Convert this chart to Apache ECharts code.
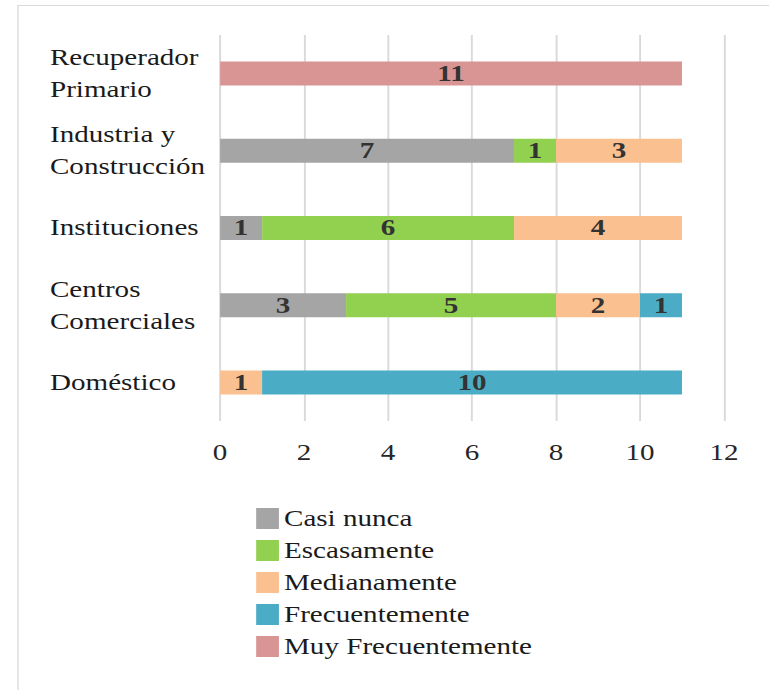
<!DOCTYPE html>
<html>
<head>
<meta charset="utf-8">
<script src="https://cdn.jsdelivr.net/npm/echarts@6/dist/echarts.min.js"></script>
<style>
  html, body { margin: 0; padding: 0; background: #fff; overflow: hidden; }
  /* la figura original está estirada en horizontal */
  #chart { width: 608px; height: 690px; transform: scaleX(1.265); transform-origin: 0 0; }
</style>
</head>
<body>
<div id="chart"></div>
<script>
// categorias (de abajo hacia arriba)
var categories = ['Doméstico', 'Centros\nComerciales', 'Instituciones', 'Industria y\nConstrucción', 'Recuperador\nPrimario'];
var seriesNames = ['Casi nunca', 'Escasamente', 'Medianamente', 'Frecuentemente', 'Muy Frecuentemente'];
var casiNunca = [0, 3, 1, 7, 0];
var escasamente = [0, 5, 6, 1, 0];
var medianamente = [1, 2, 4, 3, 0];
var frecuentemente = [10, 1, 0, 0, 0];
var muyFrecuentemente = [0, 0, 0, 0, 11];
var xTicks = [0, 2, 4, 6, 8, 10, 12];
var colors = ['#A5A5A5', '#92D050', '#FAC090', '#4BACC6', '#D99594'];

var values = [casiNunca, escasamente, medianamente, frecuentemente, muyFrecuentemente];
var font = "'Liberation Serif', 'Times New Roman', serif";

var series = [];
for (var i = 0; i < seriesNames.length; i++) {
    series.push({
        name: seriesNames[i],
        type: 'bar',
        stack: 'total',
        barWidth: 24,
        itemStyle: { color: colors[i] },
        label: {
            show: true,
            position: 'inside',
            fontFamily: font,
            fontSize: 23,
            fontWeight: 'bold',
            color: '#333',
            formatter: function (p) { return p.value ? p.value : ''; }
        },
        data: values[i]
    });
}

var myChart = echarts.init(document.getElementById('chart'), null, { renderer: 'svg' });
myChart.setOption({
    animation: false,
    backgroundColor: '#fff',
    graphic: [{
        type: 'rect',
        shape: { x: 14.2, y: 5.5, width: 800, height: 800 },
        style: { fill: 'none', stroke: '#d9d9d9', lineWidth: 1 },
        silent: true
    }],
    grid: { left: 174, right: 35.7, top: 35, bottom: 269 },
    legend: {
        orient: 'vertical',
        left: 202.5,
        top: 507,
        padding: 0,
        itemWidth: 18,
        itemHeight: 21,
        itemGap: 9,
        itemStyle: { borderWidth: 0 },
        icon: 'rect',
        textStyle: { fontFamily: font, fontSize: 23, lineHeight: 21, color: '#1a1a1a', padding: [0, 0, 0, -1] },
        data: seriesNames
    },
    xAxis: {
        type: 'value',
        min: 0,
        max: 12,
        interval: 2,
        axisLine: { show: false },
        axisTick: { show: false },
        splitLine: { lineStyle: { color: '#d9d9d9', width: 1.5 } },
        axisLabel: {
            margin: 20,
            fontFamily: font,
            fontSize: 23,
            color: '#262626',
            formatter: function (v) { return xTicks.indexOf(v) >= 0 ? String(v) : ''; }
        }
    },
    yAxis: {
        type: 'category',
        data: categories,
        axisLine: { show: false },
        axisTick: { show: false },
        axisLabel: {
            align: 'left',
            margin: 134.5,
            fontFamily: font,
            fontSize: 23,
            lineHeight: 32,
            color: '#1a1a1a'
        }
    },
    series: series
});

window.onresize = function () {
    myChart.resize();
};
</script>
</body>
</html>
